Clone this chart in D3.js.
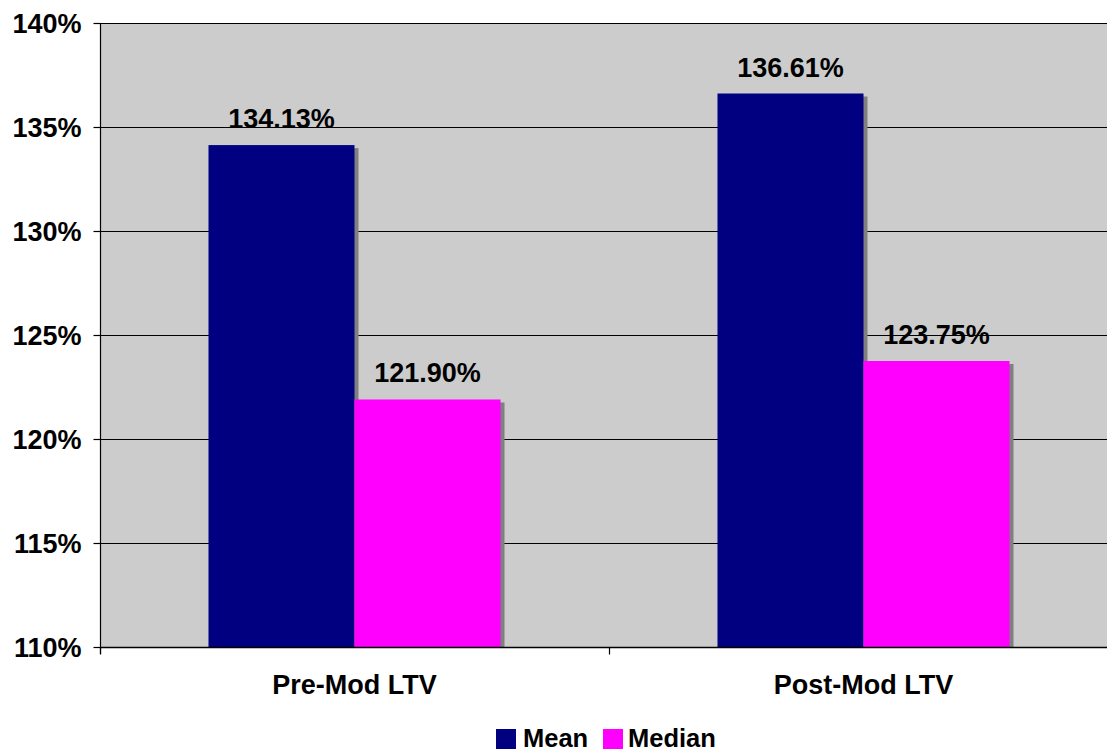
<!DOCTYPE html>
<html><head><meta charset="utf-8">
<script src="https://cdn.jsdelivr.net/npm/d3@7"></script>
<style>
html,body{margin:0;padding:0;background:#fff;}
svg text{font-family:Arial,"Liberation Sans",sans-serif;font-weight:bold;fill:#000;}
</style></head>
<body><svg id="chart" width="1107" height="753"></svg>
<script>
const categories = ["Pre-Mod LTV", "Post-Mod LTV"];
const seriesNames = ["Mean", "Median"];
const meanValues = [134.13, 136.61];
const medianValues = [121.90, 123.75];
const yTicks = [110, 115, 120, 125, 130, 135, 140];
const colors = ["#000080", "#FF00FF"];

(function () {
const svg = d3.select("#chart");
const pLeft = 100, pRight = 1118, pTop = 23, pBottom = 647;

const x = d3.scaleBand().domain(categories).range([pLeft, pRight]).paddingInner(0).paddingOuter(0);
const y = d3.scaleLinear().domain([110, 140]).range([pBottom, pTop]);
const inner = d3.scaleBand().domain(seriesNames).range([0, x.bandwidth()]).paddingOuter(0.743).paddingInner(0);

// plot area
svg.append("rect").attr("x", pLeft).attr("y", pTop).attr("width", pRight - pLeft).attr("height", pBottom - pTop).attr("fill", "#CCCCCC");

// gridlines
svg.append("g").selectAll("line").data(yTicks.filter(t => t > 110)).join("line")
  .attr("x1", pLeft).attr("x2", pRight)
  .attr("y1", d => Math.round(y(d)) + 0.5).attr("y2", d => Math.round(y(d)) + 0.5)
  .attr("stroke", "#000").attr("stroke-width", 1.2);

const data = categories.map((c, i) => [
  {cat: c, s: "Mean", v: meanValues[i]},
  {cat: c, s: "Median", v: medianValues[i]}
]).flat();

// shadows
svg.append("g").selectAll("rect").data(data).join("rect")
  .attr("x", d => x(d.cat) + inner(d.s) + 4)
  .attr("y", d => y(d.v) + 3)
  .attr("width", inner.bandwidth())
  .attr("height", d => pBottom - y(d.v) - 3)
  .attr("fill", "#808080");

// bars
svg.append("g").selectAll("rect").data(data).join("rect")
  .attr("x", d => x(d.cat) + inner(d.s))
  .attr("y", d => y(d.v))
  .attr("width", inner.bandwidth())
  .attr("height", d => pBottom - y(d.v))
  .attr("fill", d => colors[seriesNames.indexOf(d.s)]);

// value labels
svg.append("g").selectAll("text").data(data).join("text")
  .attr("x", d => x(d.cat) + inner(d.s) + inner.bandwidth() / 2)
  .attr("y", d => y(d.v) - 17)
  .attr("text-anchor", "middle")
  .style("font-size", "27px")
  .text(d => d.v.toFixed(2) + "%");

// y axis
const yAxis = d3.axisLeft(y).tickValues(yTicks).tickFormat(d => d + "%").tickSize(7).tickPadding(12);
const gy = svg.append("g").attr("transform", `translate(${pLeft + 0.5},0)`).call(yAxis);
gy.select(".domain").attr("d", `M0,${pTop}V${pBottom + 7}`).attr("stroke", "#000").attr("stroke-width", 1.2);
gy.selectAll(".tick line").attr("stroke", "#000").attr("stroke-width", 1.2);
gy.selectAll(".tick text").style("font-size", "27px").attr("dy", "0.36em");

// x axis
const gx = svg.append("g").attr("transform", `translate(0,${pBottom + 0.5})`);
gx.append("line").attr("x1", pLeft).attr("x2", pRight).attr("y1", 0).attr("y2", 0).attr("stroke", "#000").attr("stroke-width", 1.5);
const boundaries = [pLeft, ...categories.map(c => x(c) + x.bandwidth())];
gx.selectAll("line.tk").data(boundaries).join("line").attr("class", "tk")
  .attr("x1", d => d + 0.5).attr("x2", d => d + 0.5).attr("y1", 0).attr("y2", 7)
  .attr("stroke", "#000").attr("stroke-width", 1.2);
gx.selectAll("text").data(categories).join("text")
  .attr("x", d => x(d) + x.bandwidth() / 2)
  .attr("y", 46)
  .attr("text-anchor", "middle")
  .style("font-size", "27px")
  .text(d => d);

// legend
const legendItems = [{x: 496, tx: 523}, {x: 603, tx: 628}];
const lg = svg.append("g");
legendItems.forEach((it, i) => {
  lg.append("rect").attr("x", it.x).attr("y", 729).attr("width", 20).attr("height", 20).attr("fill", colors[i]);
  lg.append("text").attr("x", it.tx).attr("y", 747).style("font-size", "25.5px").text(seriesNames[i]);
});
})();
</script></body></html>
